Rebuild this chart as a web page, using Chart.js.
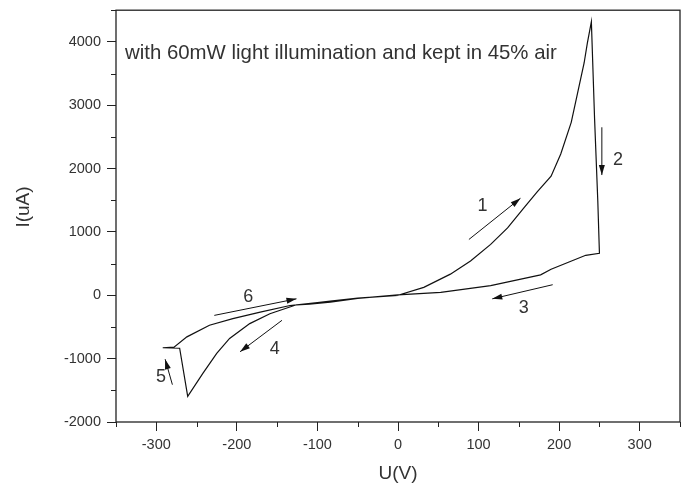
<!DOCTYPE html>
<html>
<head>
<meta charset="utf-8">
<script src="https://cdn.jsdelivr.net/npm/chart.js@4"></script>
<style>
  html, body { margin: 0; padding: 0; background: #fff; }
  #wrap { width: 688px; height: 489px; }
</style>
</head>
<body>
<div id="wrap"><canvas id="ivChart" width="688" height="489"></canvas></div>
<script>
// I-V sweep (U in V, I in uA), in sweep order
const sweepU = [0, 32, 65, 90, 115, 136, 156, 173, 190, 202, 215, 223, 231, 235, 240,
                244, 248, 250, 233, 190, 177, 115, 53, 0,
                -50, -84, -110, -126, -159, -184, -209, -225, -242, -261,
                -271, -292, -278, -262, -234, -205, -171, -134, -100, -84, -50, 0];
const sweepI = [0, 125, 334, 542, 803, 1063, 1375, 1636, 1880, 2230, 2730, 3198, 3667, 3980, 4319,
                2781, 1480, 662, 631, 410, 323, 152, 47, 6,
                -48, -109, -140, -150, -291, -447, -681, -916, -1228, -1594,
                -836, -828, -818, -656, -473, -369, -266, -161, -115, -92, -45, 0];

// direction arrows [fromU, fromI] -> [toU, toI] and their numbers
const arrowNames = ['1', '2', '3', '4', '5', '6'];
const arrowFrom = [[88, 881], [253, 2652], [192, 167], [-144, -395], [-280, -1411], [-228, -317]];
const arrowTo = [[152, 1531], [253, 1898], [117, -56], [-196, -891], [-289, -1009], [-126, -56]];
const arrowLabelAt = [[105, 1402], [273, 2131], [156, -197], [-153, -853], [-294, -1291], [-186, -20]];

const xTicksMajor = [-300, -200, -100, 0, 100, 200, 300];
const yTicksMajor = [-2000, -1000, 0, 1000, 2000, 3000, 4000];
const noteText = 'with 60mW light illumination and kept in 45% air';

const points = sweepU.map((u, i) => ({ x: u, y: sweepI[i] }));
const FONT = 'Arial, "Liberation Sans", sans-serif';

// frame, minor ticks, tick labels, arrows and texts
const extras = {
  id: 'extras',
  afterDraw(chart) {
    const ctx = chart.ctx;
    const xs = chart.scales.x, ys = chart.scales.y;
    const a = chart.chartArea;
    ctx.save();
    ctx.strokeStyle = '#222';
    ctx.lineWidth = 1.3;
    ctx.strokeRect(a.left, a.top, a.right - a.left, a.bottom - a.top);

    // minor ticks
    ctx.lineWidth = 1;
    ctx.beginPath();
    for (let v = -350; v <= 350; v += 100) {
      const px = Math.round(xs.getPixelForValue(v)) + 0.5;
      ctx.moveTo(px, a.bottom); ctx.lineTo(px, a.bottom + 5);
    }
    for (let v = -1500; v <= 4500; v += 1000) {
      const py = Math.round(ys.getPixelForValue(v)) + 0.5;
      ctx.moveTo(a.left, py); ctx.lineTo(a.left - 5, py);
    }
    ctx.stroke();

    // tick labels
    ctx.fillStyle = '#333';
    ctx.font = '14.5px ' + FONT;
    ctx.textBaseline = 'middle';
    ctx.textAlign = 'center';
    xTicksMajor.forEach(v => ctx.fillText(String(v), xs.getPixelForValue(v), 445));
    ctx.textAlign = 'right';
    yTicksMajor.forEach(v => ctx.fillText(String(v), a.left - 15, ys.getPixelForValue(v)));

    // arrows
    ctx.strokeStyle = '#111';
    ctx.fillStyle = '#111';
    ctx.lineWidth = 1;
    arrowFrom.forEach((f, i) => {
      const x0 = xs.getPixelForValue(f[0]), y0 = ys.getPixelForValue(f[1]);
      const x1 = xs.getPixelForValue(arrowTo[i][0]), y1 = ys.getPixelForValue(arrowTo[i][1]);
      const ang = Math.atan2(y1 - y0, x1 - x0);
      ctx.beginPath();
      ctx.moveTo(x0, y0); ctx.lineTo(x1, y1);
      ctx.stroke();
      ctx.beginPath();
      ctx.moveTo(x1, y1);
      ctx.lineTo(x1 - 10 * Math.cos(ang) + 3 * Math.sin(ang), y1 - 10 * Math.sin(ang) - 3 * Math.cos(ang));
      ctx.lineTo(x1 - 10 * Math.cos(ang) - 3 * Math.sin(ang), y1 - 10 * Math.sin(ang) + 3 * Math.cos(ang));
      ctx.closePath();
      ctx.fill();
    });

    ctx.fillStyle = '#333';
    ctx.font = '18px ' + FONT;
    ctx.textAlign = 'center';
    arrowNames.forEach((n, i) => {
      ctx.fillText(n, xs.getPixelForValue(arrowLabelAt[i][0]), ys.getPixelForValue(arrowLabelAt[i][1]));
    });

    // note and axis titles
    ctx.font = '20.4px ' + FONT;
    ctx.textAlign = 'left';
    ctx.fillText(noteText, a.left + 9, 53);
    ctx.textAlign = 'center';
    ctx.font = '19px ' + FONT;
    ctx.fillText('U(V)', xs.getPixelForValue(0), 474);
    ctx.translate(24, 207);
    ctx.rotate(-Math.PI / 2);
    ctx.fillText('I(uA)', 0, 0);
    ctx.restore();
  }
};

new Chart(document.getElementById('ivChart'), {
  type: 'scatter',
  data: {
    datasets: [{
      data: points,
      showLine: true,
      borderColor: '#111',
      borderWidth: 1.2,
      pointRadius: 0,
      tension: 0
    }]
  },
  options: {
    responsive: false,
    animation: false,
    layout: { padding: { top: 5, right: 8, left: 0, bottom: 0 } },
    plugins: { legend: { display: false }, tooltip: { enabled: false } },
    scales: {
      x: {
        type: 'linear',
        min: -350, max: 350,
        afterBuildTicks: s => { s.ticks = xTicksMajor.map(v => ({ value: v })); },
        afterFit: s => { s.height = 67; },
        grid: { drawOnChartArea: false, tickLength: 9, tickColor: '#222' },
        border: { display: false },
        ticks: { color: 'rgba(0,0,0,0)' }
      },
      y: {
        type: 'linear',
        min: -2000, max: 4500,
        afterBuildTicks: s => { s.ticks = yTicksMajor.map(v => ({ value: v })); },
        afterFit: s => { s.width = 116; },
        grid: { drawOnChartArea: false, tickLength: 9, tickColor: '#222' },
        border: { display: false },
        ticks: { color: 'rgba(0,0,0,0)' }
      }
    }
  },
  plugins: [extras]
});
</script>
</body>
</html>
